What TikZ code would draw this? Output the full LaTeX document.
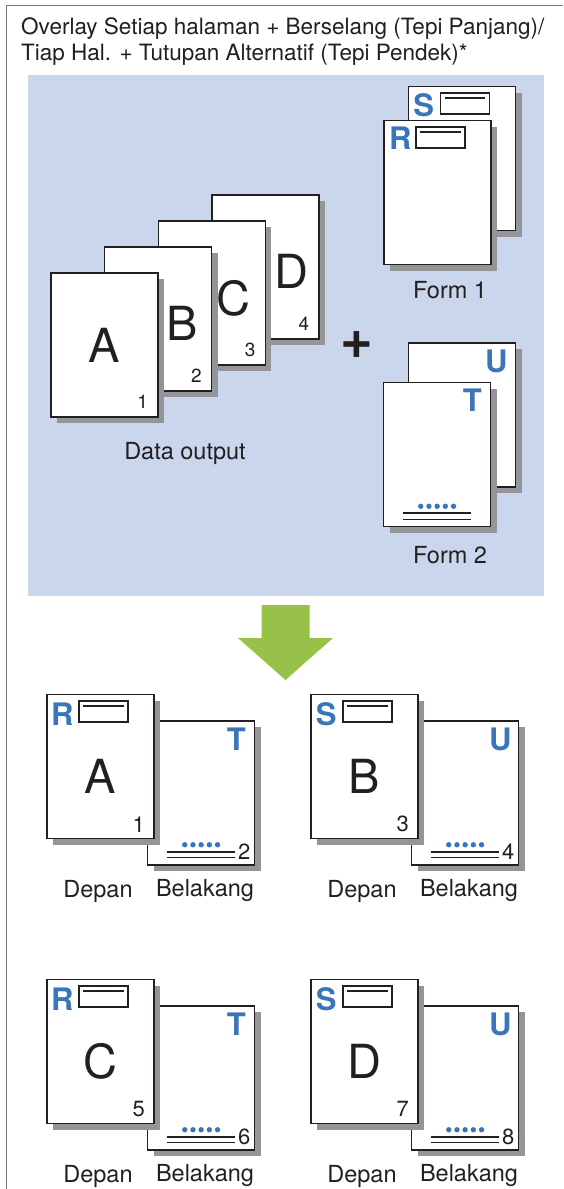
\documentclass[tikz,border=0pt]{standalone}
\usepackage{fontspec}
\setmainfont{TeX Gyre Heros}
\usetikzlibrary{positioning,calc,shadows}
\definecolor{ink}{RGB}{35,31,32}
\definecolor{panel}{RGB}{201,214,235}
\definecolor{shade}{RGB}{147,149,152}
\definecolor{accent}{RGB}{57,117,184}
\definecolor{leaf}{RGB}{151,193,72}
\definecolor{rule}{RGB}{120,120,120}
\tikzset{
  page/.style={draw=ink,line width=1.5pt,fill=white,minimum width=107pt,minimum height=144pt,inner sep=0pt,
    drop shadow={shadow xshift=6pt,shadow yshift=-6pt,fill=shade,opacity=1}},
  bigch/.style={font=\fontsize{47}{47}\selectfont,text=ink,inner sep=0pt},
  pnum/.style={font=\fontsize{22}{22}\selectfont,text=ink,inner sep=0pt},
  fchar/.style={font=\fontsize{31}{31}\selectfont\bfseries,text=accent,inner sep=0pt},
  lbl/.style={font=\fontsize{23.5}{27}\selectfont,text=ink,inner sep=0pt},
  hdrbox/.style={draw=ink,line width=1.5pt,fill=white,minimum width=49pt,minimum height=21pt,inner sep=0pt},
}
% header box with its rule: #1 box name, #2 page
\newcommand\formhead[2]{%
  \node[hdrbox] (#1) at ($(#2.north west)+(57,17.5)$) {};
  \draw[ink,line width=1.5pt] ($(#1.north west)+(5,6)$) -- ($(#1.north east)+(-5,6)$);
}
% dots and double rule at the foot of a page
\newcommand\formfoot[1]{%
  \foreach \k in {0,...,4} \fill[accent] ($(#1.south west)+(38+8.2*\k,-21)$) circle (2.7pt);
  \draw[ink,line width=1.6pt] ($(#1.south west)+(20,-14)$) -- ++(68,0);
  \draw[ink,line width=1.1pt] ($(#1.south west)+(20,-8)$) -- ++(68,0);
}
\begin{document}
\begin{tikzpicture}[x=1pt,y=-1pt]
  \useasboundingbox (0,0) rectangle (563,1189);
  \draw[rule,line width=1pt] (6,1189) -- (6,5) -- (563,5);
  \node[lbl,font=\fontsize{22.5}{26.5}\selectfont,anchor=north west,align=left] (title) at (21,17)
    {Overlay Setiap halaman + Berselang (Tepi Panjang)/\\Tiap Hal. + Tutupan Alternatif (Tepi Pendek)*};
  \fill[panel] (28,75) rectangle (544,596);
  % data output, back to front
  \foreach \i/\ch/\dx/\dy in {4/D/26/4,3/C/22/5,2/B/24/4,1/A/0/0} {
    \node[page] (d\i) at ({104.5+53.7*(\i-1)},{345-26*(\i-1)}) {};
    \node[bigch] (dch\i) at ($(d\i.center)+(\dx,\dy)$) {\ch};
    \node[pnum,font=\fontsize{19}{19}\selectfont] (dn\i) at ($(d\i.south east)+(-16,-16)$) {\i};
  }
  \node[lbl] (dlab) at (185,453) {Data output};
  \node[font=\fontsize{56}{56}\selectfont\bfseries,text=ink,inner sep=0pt] (plus) at (357,345) {+};
  % form 1
  \node[page] (s1) at (462,158.5) {};
  \node[fchar] (sch) at ($(s1.north west)+(16,19)$) {S};
  \formhead{sbox}{s1}
  \node[page] (r1) at (437.5,192.5) {};
  \node[fchar] (rch) at ($(r1.north west)+(17,18)$) {R};
  \formhead{rbox}{r1}
  \node[lbl] (f1lab) at ($(r1.south)+(12.5,25)$) {Form 1};
  % form 2
  \node[page] (u2) at (462,415) {};
  \node[fchar] (uch) at ($(u2.north east)+(-20,19)$) {U};
  \node[page] (t2) at (437,454.5) {};
  \node[fchar] (tch) at ($(t2.north east)+(-19,18)$) {T};
  \formfoot{t2}
  \node[lbl] (f2lab) at ($(t2.south)+(13,28)$) {Form 2};
  % result arrow
  \fill[leaf] (261.5,605) -- (309.5,605) -- (309.5,638) -- (333,638) -- (285.5,680)
    -- (238,638) -- (261.5,638) -- cycle;
  % printed sheets: back page first, front page on top
  \foreach \i/\ch/\fm/\bk/\cx/\cy in {1/A/R/T/0/0,2/B/S/U/264/0,3/C/R/T/0/285,4/D/S/U/264/285} {
    \pgfmathtruncatemacro\nf{2*\i-1}
    \pgfmathtruncatemacro\nb{2*\i}
    \node[page] (b\i) at (201+\cx,793+\cy) {};
    \node[fchar] (bk\i) at ($(b\i.north east)+(-19,19)$) {\bk};
    \formfoot{b\i}
    \node[pnum] (bn\i) at ($(b\i.south east)+(-11,-14)$) {\nb};
    \node[page] (f\i) at (100.5+\cx,766.5+\cy) {};
    \node[fchar] (fm\i) at ($(f\i.north west)+(16,20)$) {\fm};
    \formhead{fh\i}{f\i}
    \node[bigch] (fch\i) at ($(f\i.center)+(0,10)$) {\ch};
    \node[pnum] (fn\i) at ($(f\i.south east)+(-16,-15)$) {\nf};
    \node[lbl] (dep\i) at ($(f\i.south)+(-2.5,52)$) {Depan};
    \node[lbl] (bel\i) at ($(b\i.south)+(4,25)$) {Belakang};
  }
\end{tikzpicture}
\end{document}
